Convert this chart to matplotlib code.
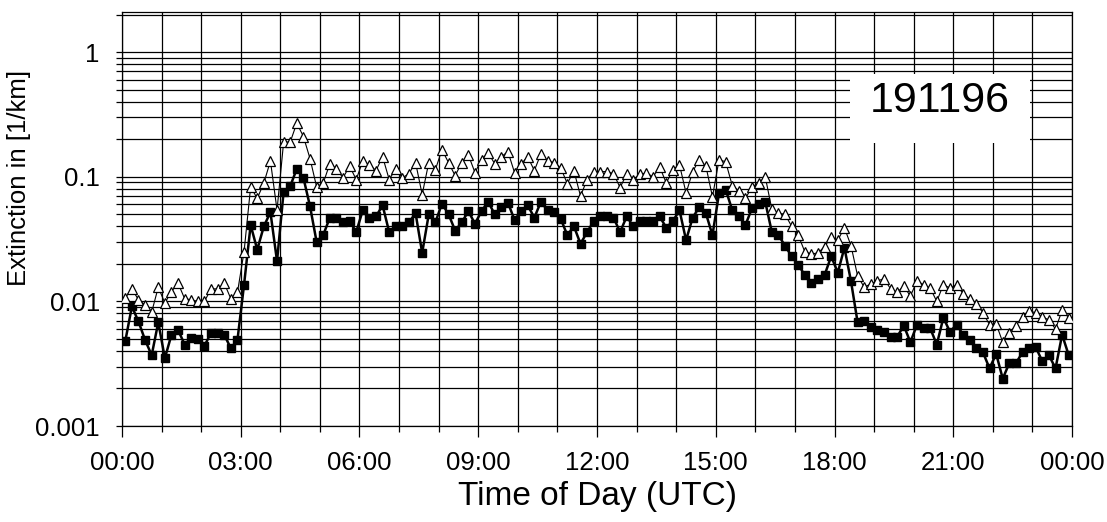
import numpy as np
import matplotlib
matplotlib.use('Agg')
import matplotlib.pyplot as plt
from matplotlib.ticker import LogLocator, FixedLocator, NullFormatter
from matplotlib.patches import Rectangle

plt.rcParams['font.family'] = ['Liberation Sans', 'DejaVu Sans']

# 10-minute samples, centred at hh:05, hh:15, ...
minutes = np.arange(5, 1440, 10)
hours = minutes / 60.0

# filled squares (lower curve)
ext_squares = [
    0.0048, 0.0091, 0.0069, 0.0049, 0.0037, 0.0068, 0.0035, 0.0054, 0.0059, 0.0045,
    0.0051, 0.0050, 0.0044, 0.0056, 0.0056, 0.0054, 0.0042, 0.0049, 0.0136, 0.041,
    0.026, 0.040, 0.052, 0.021, 0.076, 0.084, 0.116, 0.098, 0.058, 0.030,
    0.034, 0.047, 0.047, 0.043, 0.044, 0.036, 0.054, 0.047, 0.048, 0.059,
    0.036, 0.040, 0.040, 0.043, 0.051, 0.0245, 0.050, 0.043, 0.061, 0.050,
    0.037, 0.043, 0.053, 0.042, 0.053, 0.063, 0.050, 0.057, 0.062, 0.045,
    0.053, 0.059, 0.047, 0.063, 0.054, 0.052, 0.046, 0.034, 0.040, 0.029,
    0.036, 0.044, 0.048, 0.048, 0.047, 0.036, 0.048, 0.040, 0.044, 0.044,
    0.044, 0.048, 0.039, 0.044, 0.054, 0.031, 0.047, 0.057, 0.051, 0.034,
    0.074, 0.079, 0.054, 0.048, 0.041, 0.056, 0.060, 0.063, 0.036, 0.034,
    0.028, 0.023, 0.0196, 0.0163, 0.014, 0.015, 0.0163, 0.023, 0.017, 0.027,
    0.0145, 0.0068, 0.0069, 0.0062, 0.0059, 0.0057, 0.0052, 0.0052, 0.0064, 0.0047,
    0.0065, 0.0061, 0.0061, 0.0045, 0.0074, 0.0057, 0.0065, 0.0054, 0.0049, 0.0042,
    0.0039, 0.0029, 0.0038, 0.0024, 0.0032, 0.0032, 0.0039, 0.0042, 0.0043, 0.0033,
    0.0037, 0.0029, 0.0054, 0.0037,
]

# open triangles (upper curve)
ext_triangles = [
    0.0107, 0.0126, 0.0103, 0.0094, 0.0082, 0.013, 0.0097, 0.012, 0.014, 0.0105,
    0.0103, 0.010, 0.010, 0.0126, 0.0126, 0.014, 0.0105, 0.0118, 0.025, 0.083,
    0.067, 0.089, 0.134, 0.054, 0.19, 0.19, 0.27, 0.21, 0.14, 0.083,
    0.089, 0.127, 0.116, 0.098, 0.122, 0.095, 0.134, 0.125, 0.112, 0.145,
    0.095, 0.116, 0.098, 0.106, 0.13, 0.072, 0.13, 0.114, 0.165, 0.13,
    0.102, 0.13, 0.15, 0.108, 0.137, 0.156, 0.127, 0.145, 0.159, 0.108,
    0.127, 0.145, 0.112, 0.153, 0.134, 0.13, 0.118, 0.088, 0.112, 0.07,
    0.095, 0.11, 0.11, 0.11, 0.106, 0.082, 0.105, 0.095, 0.105, 0.107,
    0.1, 0.12, 0.089, 0.114, 0.125, 0.074, 0.11, 0.137, 0.122, 0.069,
    0.137, 0.132, 0.085, 0.077, 0.067, 0.083, 0.089, 0.1, 0.055, 0.051,
    0.05, 0.04, 0.034, 0.025, 0.024, 0.0245, 0.0275, 0.033, 0.031, 0.039,
    0.028, 0.016, 0.013, 0.0138, 0.0146, 0.0152, 0.0126, 0.0118, 0.0133, 0.011,
    0.0146, 0.0136, 0.0128, 0.010, 0.0136, 0.0128, 0.0136, 0.0115, 0.0105, 0.0096,
    0.0081, 0.0065, 0.0066, 0.0047, 0.0056, 0.0064, 0.0075, 0.0084, 0.0081, 0.0075,
    0.0071, 0.006, 0.0085, 0.0074,
]

hour_ticks = [0, 3, 6, 9, 12, 15, 18, 21, 24]
hour_labels = ['00:00', '03:00', '06:00', '09:00', '12:00', '15:00', '18:00', '21:00', '00:00']
date_label = '191196'

fig = plt.figure(figsize=(11.07, 5.22), dpi=100)
ax = fig.add_axes([0.1102, 0.1839, 0.8582, 0.7931])

ax.plot(hours, ext_squares, color='black', lw=1.8, marker='s', ms=6,
        mfc='black', mec='black', zorder=3)
ax.plot(hours, ext_triangles, color='black', lw=0.8, marker='^', ms=7.5,
        mfc='white', mec='black', mew=0.9, zorder=4)

ax.set_yscale('log')
ax.set_ylim(0.001, 2.1)
ax.set_xlim(0, 24)

ax.set_xticks(hour_ticks)
ax.set_xticklabels(hour_labels)
ax.xaxis.set_minor_locator(FixedLocator(np.arange(0, 25, 1)))
ax.yaxis.set_minor_locator(LogLocator(base=10, subs=np.arange(2, 10), numticks=20))
ax.yaxis.set_minor_formatter(NullFormatter())
ax.set_yticks([0.001, 0.01, 0.1, 1])
ax.set_yticklabels(['0.001', '0.01', '0.1', '1'])

ax.grid(True, which='both', color='black', lw=0.9)
ax.tick_params(axis='x', which='major', labelsize=18.5, length=8, width=0.9, pad=10)
ax.tick_params(axis='x', which='minor', length=4, width=0.9)
ax.tick_params(axis='y', which='both', labelsize=18.5, length=4, width=0.9, pad=12)
for s in ax.spines.values():
    s.set_linewidth(0.9)

ax.set_xlabel('Time of Day (UTC)', fontsize=24)
ax.set_ylabel('Extinction in [1/km]', fontsize=18.5)
ax.xaxis.set_label_coords(0.5, -0.132)
ax.yaxis.set_label_coords(-0.096, 0.60)

# white box with the date
ax.add_patch(Rectangle((0.766, 0.683), 0.19, 0.168, transform=ax.transAxes,
                       facecolor='white', edgecolor='none', zorder=5))
ax.text(0.861, 0.784, date_label, transform=ax.transAxes, fontsize=31,
        ha='center', va='center', zorder=6)

fig.savefig('out.png', dpi=100)
